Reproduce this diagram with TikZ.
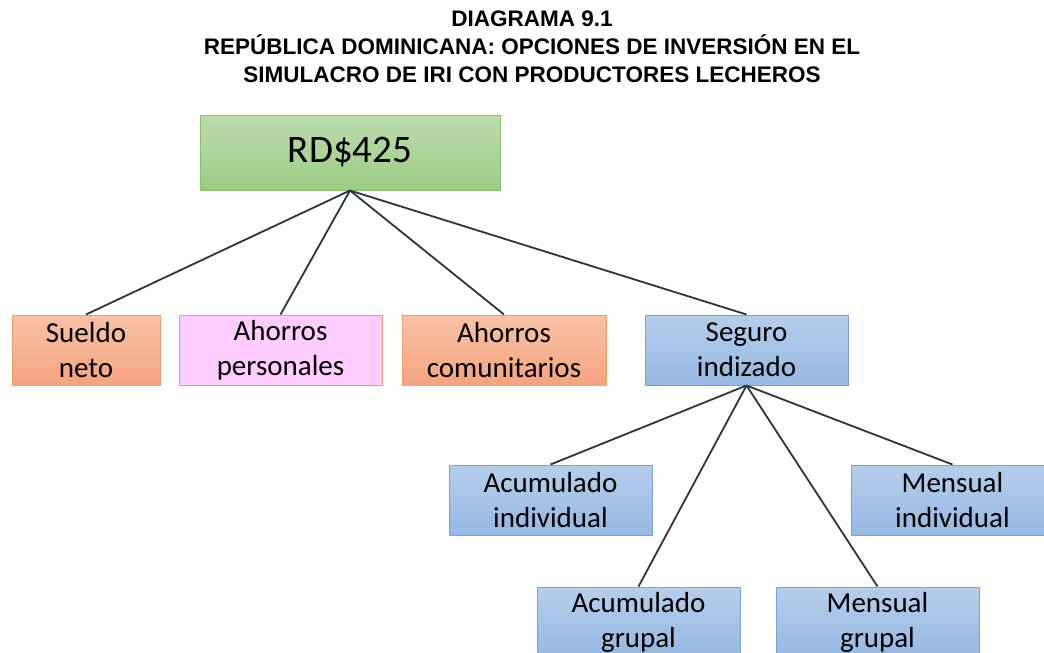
\documentclass[tikz,border=0pt]{standalone}
\usepackage{fontspec}
\setmainfont{Carlito}
\newfontfamily\titlefont{Liberation Sans}
\definecolor{lnc}{HTML}{2B3440}
\definecolor{grT}{HTML}{BCDCAE}
\definecolor{grB}{HTML}{9DCC83}
\definecolor{grD}{HTML}{86C06A}
\definecolor{orT}{HTML}{F8C2A8}
\definecolor{orB}{HTML}{F4A47E}
\definecolor{orD}{HTML}{F39C68}
\definecolor{pk}{HTML}{FFCCFF}
\definecolor{blT}{HTML}{B6CEEB}
\definecolor{blB}{HTML}{95B8E2}
\definecolor{blD}{HTML}{74A4DC}
\begin{document}
\begin{tikzpicture}[x=1pt,y=-1pt,
  box/.style={draw,line width=1pt,minimum height=70pt,inner sep=0pt,align=center,
    font=\fontsize{29}{35}\selectfont,text=black},
  greenbox/.style={box,top color=grT,bottom color=grB,draw=grD},
  orangebox/.style={box,top color=orT,bottom color=orB,draw=orD},
  pinkbox/.style={box,fill=pk,draw=orD},
  bluebox/.style={box,top color=blT,bottom color=blB,draw=blD},
  conn/.style={draw=lnc,line width=1.8pt}]
\useasboundingbox (0,0) rectangle (1044,653);
\node[align=center,font=\titlefont\bfseries\fontsize{22.5}{28}\selectfont] (title) at (532,46.5)
  {DIAGRAMA 9.1\\REPÚBLICA DOMINICANA: OPCIONES DE INVERSIÓN EN EL\\SIMULACRO DE IRI CON PRODUCTORES LECHEROS};
\node[greenbox,minimum width=300pt,minimum height=75pt,font=\fontsize{39}{44}\selectfont] (rd) at (350,152.5) {RD\$425};
\node[orangebox,minimum width=148pt] (sueldo) at (86,350) {Sueldo\\neto};
\node[pinkbox,minimum width=203pt] (pers) at (280.5,350) {Ahorros\\personales};
\node[orangebox,minimum width=204pt] (com) at (504,350) {Ahorros\\comunitarios};
\node[bluebox,minimum width=203pt] (seg) at (746.5,350) {Seguro\\indizado};
\node[bluebox,minimum width=203pt] (acind) at (550.5,500) {Acumulado\\individual};
\node[bluebox,minimum width=203pt] (mind) at (952.5,500) {Mensual\\individual};
\node[bluebox,minimum width=203pt] (acgr) at (638.5,622) {Acumulado\\grupal};
\node[bluebox,minimum width=203pt] (mgr) at (877.5,622) {Mensual\\grupal};
\draw[conn] (rd.south) -- (sueldo.north);
\draw[conn] (rd.south) -- (pers.north);
\draw[conn] (rd.south) -- (com.north);
\draw[conn] (rd.south) -- (seg.north);
\draw[conn] (seg.south) -- (acind.north);
\draw[conn] (seg.south) -- (acgr.north);
\draw[conn] (seg.south) -- (mgr.north);
\draw[conn] (seg.south) -- (mind.north);
\end{tikzpicture}
\end{document}
